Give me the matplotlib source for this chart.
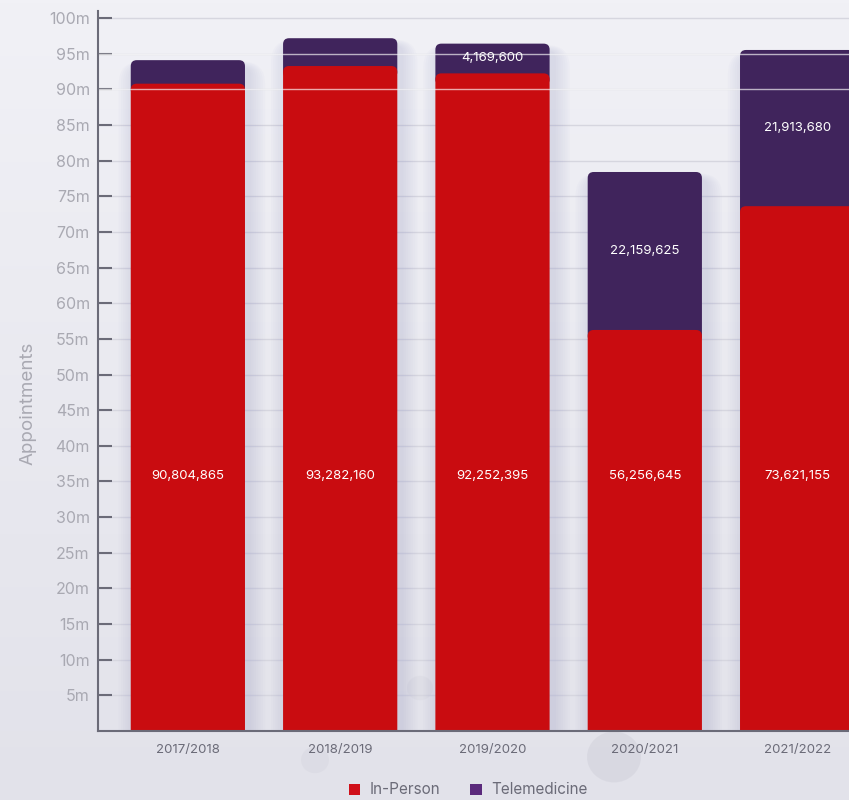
import matplotlib
matplotlib.use('Agg')
import matplotlib.pyplot as plt
from matplotlib.patches import FancyBboxPatch, Patch, Circle
from matplotlib.colors import LinearSegmentedColormap
import numpy as np

plt.rcParams['font.family'] = ['Inter', 'DejaVu Sans']

# ---- data ----
years = ['2017/2018', '2018/2019', '2019/2020', '2020/2021', '2021/2022']
in_person = [90804865, 93282160, 92252395, 56256645, 73621155]
telemedicine = [3300000, 3900000, 4169600, 22159625, 21913680]
show_tele_label = [False, False, True, True, True]
y_ticks = [v * 1e6 for v in range(5, 101, 5)]
y_tick_labels = [f'{v}m' for v in range(5, 101, 5)]

RED = '#c90c10'
PURPLE = '#40245c'
LEG_RED = '#d0101a'
LEG_PURPLE = '#5b2a7c'

W, H = 849, 800
fig = plt.figure(figsize=(W / 100, H / 100), dpi=100)

# background gradient
bg = fig.add_axes([0, 0, 1, 1], zorder=-10)
grad = np.linspace(0, 1, 256).reshape(-1, 1)
cmap = LinearSegmentedColormap.from_list('bg', ['#f1f1f6', '#e2e2ea'])
bg.imshow(grad, aspect='auto', cmap=cmap, extent=[0, 1, 0, 1], origin='upper')
for (cx, cy, r, a) in [(614, 757, 27, 0.5), (315, 760, 14, 0.3), (420, 688, 13, 0.25)]:
    bg.add_patch(Circle((cx / W, 1 - cy / H), r / W, transform=bg.transAxes,
                        facecolor='#d0d0da', alpha=a, edgecolor='none'))
bg.set_xlim(0, 1); bg.set_ylim(0, 1)
bg.axis('off')

# main axes (extends beyond right edge, clipped like reference)
ax_left, ax_right, ax_bottom, ax_top = 98, 887, 731, 11
ax = fig.add_axes([ax_left / W, 1 - ax_bottom / H, (ax_right - ax_left) / W,
                   (ax_bottom - ax_top) / H])
ax.patch.set_alpha(0)
xmin, xmax = -0.59, 4.59
ymax = 101e6
ax.set_xlim(xmin, xmax)
ax.set_ylim(0, ymax)

px_x = (xmax - xmin) / (ax_right - ax_left)
px_y = ymax / (ax_bottom - ax_top)

x = np.arange(len(years))
width = 0.75
bars_tel = ax.bar(x, telemedicine, bottom=in_person, width=width, color=PURPLE, zorder=2)
bars_in = ax.bar(x, in_person, width=width, color=RED, zorder=3)

r_px = 6
aspect = px_y / px_x


def round_top(rect, color, z, ext_px):
    x0, y0 = rect.get_x(), rect.get_y()
    w, h = rect.get_width(), rect.get_height()
    rect.set_visible(False)
    ext = ext_px * px_y
    p = FancyBboxPatch((x0, y0 - ext), w, h + ext,
                       boxstyle=f'round,pad=0,rounding_size={r_px * px_x}',
                       mutation_aspect=aspect, facecolor=color, edgecolor='none',
                       zorder=z)
    ax.add_patch(p)
    return p


# soft shadows (mostly at the sides, slightly to the right)
for xi, tot in zip(x, [a + b for a, b in zip(in_person, telemedicine)]):
    for k in range(1, 8):
        e = k * 2.3
        ax.add_patch(FancyBboxPatch((xi - width / 2 - e * px_x + 4 * px_x, -20 * px_y),
                                    width + 2 * e * px_x, tot + 20 * px_y - 8 * px_y + e * 0.4 * px_y,
                                    boxstyle=f'round,pad=0,rounding_size={(r_px + e) * px_x}',
                                    mutation_aspect=aspect, facecolor='#8a8cc0',
                                    edgecolor='none', alpha=0.032, zorder=1))

for rect in bars_tel:
    round_top(rect, PURPLE, 2, 12)
for rect in bars_in:
    round_top(rect, RED, 3, 12)

# gridlines
ax.set_yticks(y_ticks)
ax.set_yticklabels(y_tick_labels)
ax.yaxis.grid(True, color='#d6d6df', lw=1)
ax.set_axisbelow(True)
# light lines drawn over bars
for yv in (90e6, 95e6):
    ax.axhline(yv, color='white', lw=1, alpha=0.65, zorder=5)

# labels
IN_LABEL_Y = 35.8e6
for xi, v in zip(x, in_person):
    ax.text(xi, IN_LABEL_Y, f'{v:,}', ha='center', va='center', color='white',
            fontsize=9.5, zorder=6)
for xi, b, v, s in zip(x, in_person, telemedicine, show_tele_label):
    if s:
        ax.text(xi, b + v / 2, f'{v:,}', ha='center', va='center', color='white',
                fontsize=9.5, zorder=6)

ax.set_xticks(x)
ax.set_xticklabels(years)
ax.tick_params(axis='x', length=0, labelsize=9.5, labelcolor='#6b6b78', pad=9)
ax.tick_params(axis='y', direction='in', length=10, width=1.5, color='#6b6b78',
               labelsize=11.5, labelcolor='#a9a9b2', pad=6)

for s in ('top', 'right'):
    ax.spines[s].set_visible(False)
for s in ('left', 'bottom'):
    ax.spines[s].set_color('#6b6b78')
    ax.spines[s].set_linewidth(1.5)
    ax.spines[s].set_zorder(7)

fig.text(28 / W, 1 - 403 / H, 'Appointments', rotation=90, ha='center', va='center',
         color='#a9a9b2', fontsize=13.5)

handles = [Patch(facecolor=LEG_RED, edgecolor='none', label='In-Person'),
           Patch(facecolor=LEG_PURPLE, edgecolor='none', label='Telemedicine')]
fig.legend(handles=handles, loc='center', bbox_to_anchor=(468 / W, 1 - 790 / H),
           ncol=2, frameon=False, fontsize=11, handlelength=0.75, handleheight=0.75,
           handletextpad=0.6, columnspacing=2.0, labelcolor='#6b6b78')

fig.savefig('out.png', dpi=100)
